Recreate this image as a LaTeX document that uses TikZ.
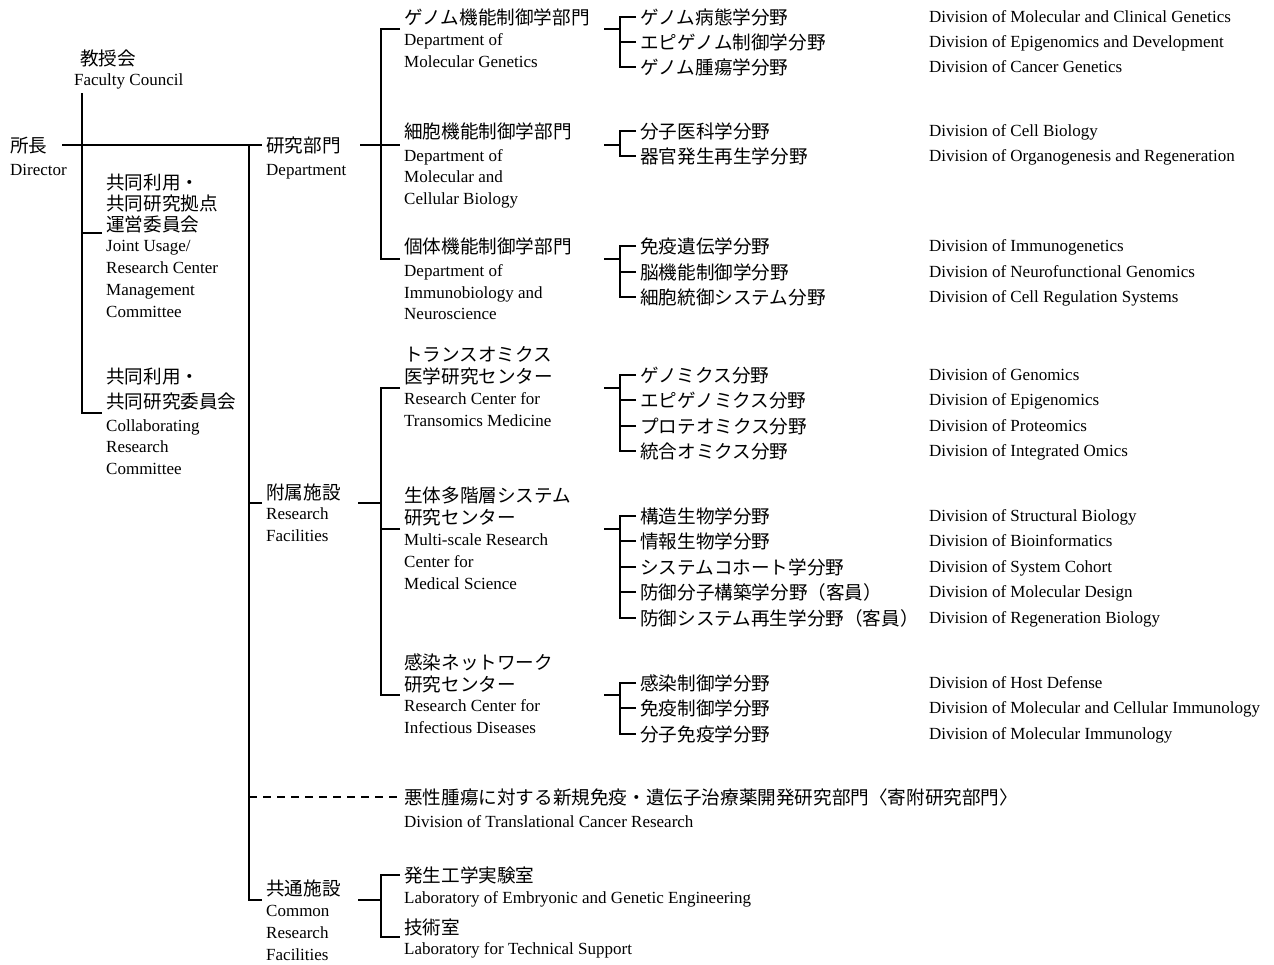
\documentclass[tikz,border=0pt]{standalone}
\usepackage{fontspec}
\setmainfont{Liberation Serif}
\newfontfamily\jpfont{Noto Sans CJK JP}
\usepackage{tikz}
\tikzset{
  jp/.style = {anchor=base west, inner sep=0pt,
    font=\jpfont\fontsize{18.6}{22}\selectfont},% japanese line
  en/.style = {anchor=base west, inner sep=0pt,
    font=\fontsize{17}{21}\selectfont},% english line
  org/.style = {line width=2.3pt},% organisation line
  orgdash/.style = {org, dash pattern=on 8pt off 6pt}% dashed organisation line
}

\begin{document}
\begin{tikzpicture}[x=1pt,y=-1pt]
\useasboundingbox (0,0) rectangle (1274,964);

% left column
\node [jp] (dirJ) at (10,152) {所長};
\node [en] (dirE) at (10,175) {Director};
\node [jp] (facJ) at (80,65) {教授会};
\node [en] (facE) at (74,85) {Faculty Council};
\node [jp] (jointJa) at (106,189) {共同利用・};
\node [jp] (jointJb) at (106,210) {共同研究拠点};
\node [jp] (jointJc) at (106,231) {運営委員会};
\node [en] (jointEa) at (106,251) {Joint Usage/};
\node [en] (jointEb) at (106,273) {Research Center};
\node [en] (jointEc) at (106,295) {Management};
\node [en] (jointEd) at (106,317) {Committee};
\node [jp] (collJa) at (106,383) {共同利用・};
\node [jp] (collJb) at (106,408) {共同研究委員会};
\node [en] (collEa) at (106,431) {Collaborating};
\node [en] (collEb) at (106,452) {Research};
\node [en] (collEc) at (106,474) {Committee};

% second column
\node [jp] (deptJ) at (266,152) {研究部門};
\node [en] (deptE) at (266,175) {Department};
\node [jp] (facilJ) at (266,499) {附属施設};
\node [en] (facilEa) at (266,519) {Research};
\node [en] (facilEb) at (266,541) {Facilities};
\node [jp] (comJ) at (266,895) {共通施設};
\node [en] (comEa) at (266,916) {Common};
\node [en] (comEb) at (266,938) {Research};
\node [en] (comEc) at (266,960) {Facilities};

% departments and centers
\node [jp] (molJ) at (404,24) {ゲノム機能制御学部門};
\node [en] (molEa) at (404,45) {Department of};
\node [en] (molEb) at (404,67) {Molecular Genetics};
\node [jp] (cellJ) at (404,138) {細胞機能制御学部門};
\node [en] (cellEa) at (404,161) {Department of};
\node [en] (cellEb) at (404,182) {Molecular and};
\node [en] (cellEc) at (404,204) {Cellular Biology};
\node [jp] (immJ) at (404,253) {個体機能制御学部門};
\node [en] (immEa) at (404,276) {Department of};
\node [en] (immEb) at (404,298) {Immunobiology and};
\node [en] (immEc) at (404,319) {Neuroscience};
\node [jp] (tomJa) at (404,361) {トランスオミクス};
\node [jp] (tomJb) at (404,383) {医学研究センター};
\node [en] (tomEa) at (404,404) {Research Center for};
\node [en] (tomEb) at (404,426) {Transomics Medicine};
\node [jp] (msJa) at (404,502) {生体多階層システム};
\node [jp] (msJb) at (404,524) {研究センター};
\node [en] (msEa) at (404,545) {Multi-scale Research};
\node [en] (msEb) at (404,567) {Center for};
\node [en] (msEc) at (404,589) {Medical Science};
\node [jp] (infJa) at (404,669) {感染ネットワーク};
\node [jp] (infJb) at (404,691) {研究センター};
\node [en] (infEa) at (404,711) {Research Center for};
\node [en] (infEb) at (404,733) {Infectious Diseases};
\node [jp] (canJ) at (404,804) {悪性腫瘍に対する新規免疫・遺伝子治療薬開発研究部門〈寄附研究部門〉};
\node [en] (canE) at (404,827) {Division of Translational Cancer Research};
\node [jp] (labJa) at (404,882) {発生工学実験室};
\node [en] (labEa) at (404,903) {Laboratory of Embryonic and Genetic Engineering};
\node [jp] (labJb) at (404,934) {技術室};
\node [en] (labEb) at (404,954) {Laboratory for Technical Support};

% divisions
\node [jp] (gAj1) at (640,24) {ゲノム病態学分野};
\node [jp] (gAj2) at (640,49) {エピゲノム制御学分野};
\node [jp] (gAj3) at (640,74) {ゲノム腫瘍学分野};
\node [jp] (gBj1) at (640,138) {分子医科学分野};
\node [jp] (gBj2) at (640,163) {器官発生再生学分野};
\node [jp] (gCj1) at (640,253) {免疫遺伝学分野};
\node [jp] (gCj2) at (640,279) {脳機能制御学分野};
\node [jp] (gCj3) at (640,304) {細胞統御システム分野};
\node [jp] (gDj1) at (640,382) {ゲノミクス分野};
\node [jp] (gDj2) at (640,407) {エピゲノミクス分野};
\node [jp] (gDj3) at (640,433) {プロテオミクス分野};
\node [jp] (gDj4) at (640,458) {統合オミクス分野};
\node [jp] (gEj1) at (640,523) {構造生物学分野};
\node [jp] (gEj2) at (640,548) {情報生物学分野};
\node [jp] (gEj3) at (640,574) {システムコホート学分野};
\node [jp] (gEj4) at (640,599) {防御分子構築学分野（客員）};
\node [jp] (gEj5) at (640,625) {防御システム再生学分野（客員）};
\node [jp] (gFj1) at (640,690) {感染制御学分野};
\node [jp] (gFj2) at (640,715) {免疫制御学分野};
\node [jp] (gFj3) at (640,741) {分子免疫学分野};

\node [en] (gAe1) at (929,22) {Division of Molecular and Clinical Genetics};
\node [en] (gAe2) at (929,47) {Division of Epigenomics and Development};
\node [en] (gAe3) at (929,72) {Division of Cancer Genetics};
\node [en] (gBe1) at (929,136) {Division of Cell Biology};
\node [en] (gBe2) at (929,161) {Division of Organogenesis and Regeneration};
\node [en] (gCe1) at (929,251) {Division of Immunogenetics};
\node [en] (gCe2) at (929,277) {Division of Neurofunctional Genomics};
\node [en] (gCe3) at (929,302) {Division of Cell Regulation Systems};
\node [en] (gDe1) at (929,380) {Division of Genomics};
\node [en] (gDe2) at (929,405) {Division of Epigenomics};
\node [en] (gDe3) at (929,431) {Division of Proteomics};
\node [en] (gDe4) at (929,456) {Division of Integrated Omics};
\node [en] (gEe1) at (929,521) {Division of Structural Biology};
\node [en] (gEe2) at (929,546) {Division of Bioinformatics};
\node [en] (gEe3) at (929,572) {Division of System Cohort};
\node [en] (gEe4) at (929,597) {Division of Molecular Design};
\node [en] (gEe5) at (929,623) {Division of Regeneration Biology};
\node [en] (gFe1) at (929,688) {Division of Host Defense};
\node [en] (gFe2) at (929,713) {Division of Molecular and Cellular Immunology};
\node [en] (gFe3) at (929,739) {Division of Molecular Immunology};

% junctions
\coordinate (dirR) at (62,145);
\coordinate (deptL) at (262,145);
\coordinate (facB) at (82,93);
\coordinate (jointL) at (102,233);
\coordinate (collL) at (102,413);
\coordinate (mainT) at (249,145);
\coordinate (facilL) at (262,503);
\coordinate (comL) at (262,900);
\coordinate (canL) at (398,797);
\coordinate (deptR) at (360,145);
\coordinate (dbA) at (400,29);
\coordinate (dbB) at (400,145);
\coordinate (dbC) at (400,259);
\coordinate (facilR) at (358,503);
\coordinate (fbA) at (400,388);
\coordinate (fbB) at (400,529);
\coordinate (fbC) at (400,695);
\coordinate (comR) at (358,900);
\coordinate (cbA) at (400,875);
\coordinate (cbB) at (400,937);

% lines
\draw [org] (dirR) -- (deptL);
\draw [org] (facB) |- (collL);
\draw [org] (jointL) -- (jointL -| facB);
\draw [org] (mainT) |- (comL);
\draw [org] (facilL) -- (facilL -| mainT);
\draw [orgdash] (canL -| mainT) -- (canL);
\draw [org] (deptR) -- (dbB);
\draw [org] (dbA) -- ++(-19,0) |- (dbC);
\draw [org] (facilR) -- ++(23,0);
\draw [org] (fbA) -- ++(-19,0) |- (fbC);
\draw [org] (fbB) -- ++(-19,0);
\draw [org] (comR) -- ++(23,0);
\draw [org] (cbA) -- ++(-19,0) |- (cbB);

% division brackets
\coordinate (sA) at (604,29);
\coordinate (pA1) at (636,17);
\coordinate (pA2) at (636,42);
\coordinate (pA3) at (636,67);
\draw [org] (sA) -- ++(16,0);
\draw [org] (pA1) -- ++(-16,0) |- (pA3);
\draw [org] (pA2) -- ++(-16,0);

\coordinate (sB) at (604,145);
\coordinate (pB1) at (636,131);
\coordinate (pB2) at (636,156);
\draw [org] (sB) -- ++(16,0);
\draw [org] (pB1) -- ++(-16,0) |- (pB2);

\coordinate (sC) at (604,259);
\coordinate (pC1) at (636,246);
\coordinate (pC2) at (636,272);
\coordinate (pC3) at (636,297);
\draw [org] (sC) -- ++(16,0);
\draw [org] (pC1) -- ++(-16,0) |- (pC3);
\draw [org] (pC2) -- ++(-16,0);

\coordinate (sD) at (604,388);
\coordinate (pD1) at (636,375);
\coordinate (pD2) at (636,400);
\coordinate (pD3) at (636,426);
\coordinate (pD4) at (636,451);
\draw [org] (sD) -- ++(16,0);
\draw [org] (pD1) -- ++(-16,0) |- (pD4);
\draw [org] (pD2) -- ++(-16,0);
\draw [org] (pD3) -- ++(-16,0);

\coordinate (sE) at (604,529);
\coordinate (pE1) at (636,516);
\coordinate (pE2) at (636,541);
\coordinate (pE3) at (636,567);
\coordinate (pE4) at (636,592);
\coordinate (pE5) at (636,618);
\draw [org] (sE) -- ++(16,0);
\draw [org] (pE1) -- ++(-16,0) |- (pE5);
\draw [org] (pE2) -- ++(-16,0);
\draw [org] (pE3) -- ++(-16,0);
\draw [org] (pE4) -- ++(-16,0);

\coordinate (sF) at (604,695);
\coordinate (pF1) at (636,683);
\coordinate (pF2) at (636,708);
\coordinate (pF3) at (636,734);
\draw [org] (sF) -- ++(16,0);
\draw [org] (pF1) -- ++(-16,0) |- (pF3);
\draw [org] (pF2) -- ++(-16,0);
\end{tikzpicture}
\end{document}
